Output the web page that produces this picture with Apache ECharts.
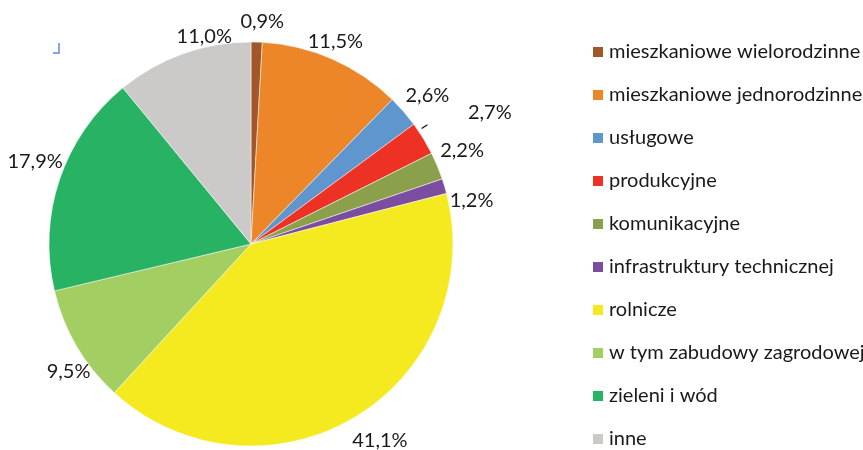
<!DOCTYPE html>
<html><head><meta charset="utf-8">
<script src="https://cdn.jsdelivr.net/npm/echarts@6/dist/echarts.min.js"></script>
<style>html,body{margin:0;padding:0;background:#fff}#c{width:863px;height:450px}</style>
</head><body><div id="c"></div>
<script>
const categories = ['mieszkaniowe wielorodzinne','mieszkaniowe jednorodzinne','usługowe','produkcyjne','komunikacyjne','infrastruktury technicznej','rolnicze','w tym zabudowy zagrodowej','zieleni i wód','inne'];
const values = [0.9, 11.5, 2.6, 2.7, 2.2, 1.2, 41.1, 9.5, 17.9, 11.0];
const colors = ['#A0582A','#EC8629','#5F96CE','#EE3125','#8BA04B','#7B4DA0','#F4EA1F','#A2CE62','#27B264','#CCCAC9'];

const CX = 251, CY = 244, R = 202;
const labelGap = [21,17,29,71,29,23,33,20,29,11];
const labelNudge = [[5,0],[-4,-2],[2,3],[6,11],[-2,-4],[5,21],[8,-5],[9,15],[3,-9],[25,-7]];
const total = values.reduce((a,b)=>a+b,0);
function midAngle(i){ let s=0; for(let k=0;k<i;k++) s+=values[k]; return (s+values[i]/2)/total*2*Math.PI; }

const FONT = 'Lato';
const chart = echarts.init(document.getElementById('c'), null, {renderer:'canvas'});
const leadA = midAngle(3) - 0.045;
chart.setOption({
  animation:false,
  backgroundColor:'#fff',
  color: colors,
  legend:{
    orient:'vertical', left:591, top:41, padding:0,
    itemWidth:12, itemHeight:12, itemGap:21, icon:'rect',
    textStyle:{fontFamily:FONT, fontSize:20, lineHeight:22, color:'#1a1a1a', padding:[0,0,0,0]},
    data: categories
  },
  graphic:[
    {type:'polyline', shape:{points:[[53,53],[59,53],[59,43]]}, style:{stroke:'#5B8FD0', lineWidth:1.5, fill:null}},
    {type:'line', shape:{x1:CX+Math.sin(leadA)*(R+4), y1:CY-Math.cos(leadA)*(R+4), x2:CX+Math.sin(leadA)*(R+11), y2:CY-Math.cos(leadA)*(R+11)}, style:{stroke:'#111', lineWidth:1.2}}
  ],
  series:[{
    type:'pie', center:[CX,CY], radius:R, startAngle:90, clockwise:true,
    avoidLabelOverlap:false,
    itemStyle:{borderColor:'#fff', borderWidth:0.5},
    label:{show:true, position:'outside', fontFamily:FONT, fontSize:20, color:'#1a1a1a',
      formatter: p => p.value.toFixed(1).replace('.', ',') + '%'},
    labelLine:{show:false},
    labelLayout: function(p){
      const i = p.dataIndex, a = midAngle(i), r = R + labelGap[i];
      return {x: CX + Math.sin(a)*r + labelNudge[i][0], y: CY - Math.cos(a)*r + labelNudge[i][1], align:'center', verticalAlign:'middle'};
    },
    data: categories.map((n,i)=>({name:n, value:values[i]}))
  }]
});
</script></body></html>
